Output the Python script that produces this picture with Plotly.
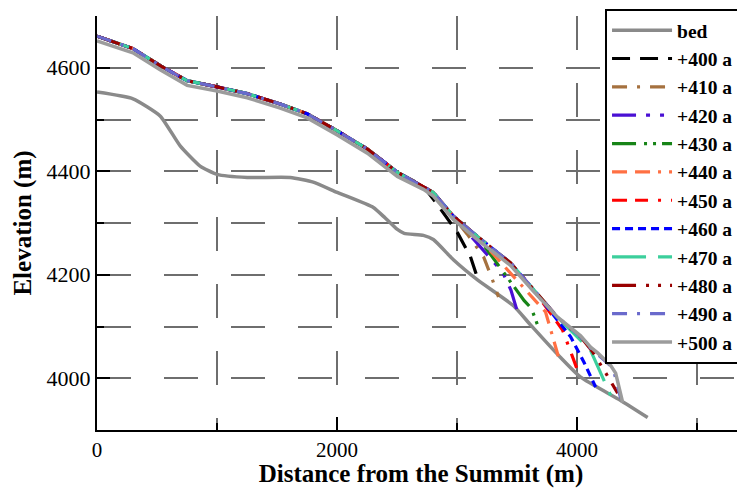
import plotly.graph_objects as go

# ---- data ----
BED_X = [0, 300, 526, 693, 859, 1001, 1252, 1610, 1802, 2002, 2303, 2400, 2500, 2560, 2720, 2803, 2970, 3171, 3471, 3613, 3863, 4030, 4364, 4589]
BED_Y = [4553, 4540, 4507, 4449, 4410, 4394, 4388, 4388, 4379, 4359, 4330, 4310, 4288, 4280, 4276, 4268, 4229, 4190, 4140, 4103, 4040, 4002, 3957, 3924]

# common upper glacier surface (coloured curves overlap here)
SURF_X = [0, 300, 526, 751, 1001, 1252, 1527, 1752, 2002, 2253, 2503, 2637, 2720, 2803, 2970, 3170, 3446, 3638, 3838, 4030, 4113, 4200]
SURF_Y = [4661, 4637, 4604, 4575, 4563, 4550, 4530, 4511, 4478, 4443, 4398, 4381, 4371, 4359, 4313, 4274, 4223, 4171, 4118, 4080, 4058, 4040]

NAMES = ["+400 a", "+410 a", "+420 a", "+430 a", "+440 a", "+450 a", "+460 a", "+470 a", "+480 a", "+490 a"]
# number of common-surface points each run keeps before its own terminus
SPLIT = [13, 14, 15, 16, 16, 18, 18, 19, 20, 21]
TERM_X = [
    [2803, 3000, 3112, 3170],
    [3087, 3221, 3296, 3346],
    [3380, 3450, 3504],
    [3560, 3620, 3671],
    [3738, 3800, 3846],
    [3880, 3950, 4013],
    [3947, 4060, 4155],
    [4113, 4200, 4280],
    [4130, 4240, 4339],
    [4300, 4364],
]
TERM_Y = [
    [4346, 4283, 4235, 4194],
    [4278, 4235, 4190, 4157],
    [4205, 4170, 4128],
    [4150, 4135, 4103],
    [4128, 4080, 4041],
    [4093, 4050, 4010],
    [4080, 4030, 3983],
    [4054, 4010, 3967],
    [4051, 4010, 3971],
    [4020, 3961],
]
COLORS = ["#000000", "#a5713f", "#4a10d4", "#178417", "#ff7043", "#ff0000", "#0000ff", "#3ccf9c", "#990000", "#6a6acc"]
DASHES = ["18px,10px", "15px,10px,3px,10px", "24px,10px,4px,10px,4px,10px", "24px,8px,3px,6px,3px,6px",
          "15px,8px,15px,8px,3px,8px", "15px,8px,13px,10px,3px,10px", "8px,5px", "34px,12px",
          "24px,10px,3px,9px,3px,9px", "15px,10px,3px,10px"]

S500_X = [0, 300, 526, 751, 1001, 1252, 1527, 1752, 2002, 2253, 2503, 2637, 2720, 2803, 2970, 3170, 3446, 3638, 3838, 4030, 4113, 4172, 4280, 4322, 4381]
S500_Y = [4652, 4629, 4596, 4566, 4555, 4542, 4522, 4503, 4470, 4435, 4390, 4374, 4365, 4352, 4307, 4268, 4218, 4168, 4118, 4082, 4060, 4049, 4025, 4010, 3953]

XTICKS = [0, 2000, 4000]
YTICKS = [4000, 4200, 4400, 4600]

SERIF = "Liberation Serif"
GRIDC = "#6e6e6e"
GDASH = "34px,33px"

fig = go.Figure()
fig.add_trace(go.Scatter(x=BED_X, y=BED_Y, mode="lines", name="bed",
                         line=dict(color="#8a8a8a", width=3.5, shape="spline", smoothing=0.5)))
for i, nm in enumerate(NAMES):
    xs = SURF_X[:SPLIT[i]] + TERM_X[i]
    ys = SURF_Y[:SPLIT[i]] + TERM_Y[i]
    fig.add_trace(go.Scatter(x=xs, y=ys, mode="lines", name=nm,
                             line=dict(color=COLORS[i], width=3.2, dash=DASHES[i])))
fig.add_trace(go.Scatter(x=S500_X, y=S500_Y, mode="lines", name="+500 a",
                         line=dict(color="#9c9c9c", width=3.5)))

# the page body has an 8px margin, so the figure is 8px smaller than the window
fig.update_layout(
    width=737, height=480,
    margin=dict(l=89, r=0, t=8, b=58),
    paper_bgcolor="white", plot_bgcolor="white",
    font=dict(family=SERIF, size=22, color="black"),
    showlegend=True,
    legend=dict(x=0.784, xanchor="left", y=1.017, yanchor="top",
                bgcolor="white", bordercolor="black", borderwidth=2,
                font=dict(family=SERIF, size=19.5, color="black", weight="bold"),
                itemwidth=60, tracegroupgap=0, maxheight=470),
    xaxis=dict(range=[0, 5400], tickvals=XTICKS, ticks="inside", ticklen=13, tickwidth=2,
               tickcolor="black", showline=True, linecolor="black", linewidth=2,
               zeroline=False, automargin=False,
               showgrid=True, gridcolor=GRIDC, gridwidth=1.5, griddash=GDASH,
               minor=dict(dtick=1000, ticks="inside", ticklen=7, tickwidth=2, tickcolor="black",
                          showgrid=True, gridcolor=GRIDC, gridwidth=1.5, griddash=GDASH),
               title=dict(text="<b>Distance from the Summit (m)</b>", font=dict(size=25), standoff=2),
               tickfont=dict(size=21)),
    yaxis=dict(range=[3900, 4700], tickvals=YTICKS, ticks="inside", ticklen=13, tickwidth=2,
               tickcolor="black", showline=True, linecolor="black", linewidth=2,
               zeroline=False, automargin=False,
               showgrid=True, gridcolor=GRIDC, gridwidth=1.5, griddash=GDASH,
               minor=dict(dtick=100, ticks="inside", ticklen=7, tickwidth=2, tickcolor="black",
                          showgrid=True, gridcolor=GRIDC, gridwidth=1.5, griddash=GDASH),
               title=dict(text="<b>Elevation (m)</b>", font=dict(size=25), standoff=8),
               tickfont=dict(size=22)),
)

fig.write_html("out.html")
